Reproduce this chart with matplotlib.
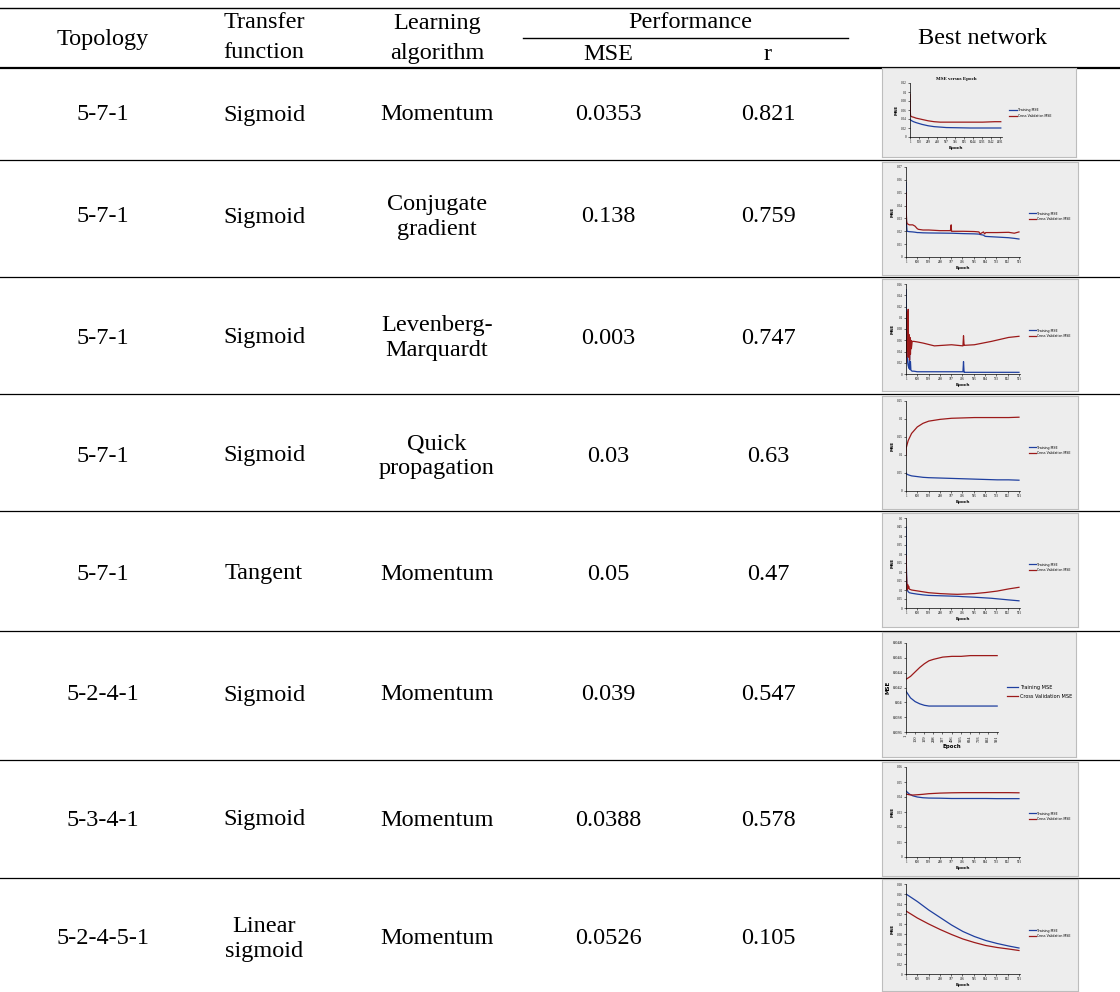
import matplotlib.pyplot as plt
import numpy as np

plt.rcParams['font.family'] = ['Liberation Serif', 'DejaVu Serif']

# table content
topology = ['5-7-1', '5-7-1', '5-7-1', '5-7-1', '5-7-1', '5-2-4-1', '5-3-4-1', '5-2-4-5-1']
transfer = ['Sigmoid', 'Sigmoid', 'Sigmoid', 'Sigmoid', 'Tangent', 'Sigmoid', 'Sigmoid', 'Linear\nsigmoid']
algorithm = ['Momentum', 'Conjugate\ngradient', 'Levenberg-\nMarquardt', 'Quick\npropagation',
             'Momentum', 'Momentum', 'Momentum', 'Momentum']
mse = ['0.0353', '0.138', '0.003', '0.03', '0.05', '0.039', '0.0388', '0.0526']
r_val = ['0.821', '0.759', '0.747', '0.63', '0.47', '0.547', '0.578', '0.105']

# thumbnail curves (epoch, value)
ep1 = [1, 5, 10, 30, 60, 100, 200, 300, 400, 500, 600, 800, 1000, 1200, 1400, 1500]
tr1 = [0.040, 0.039, 0.038, 0.036, 0.034, 0.032, 0.028, 0.025, 0.023, 0.022, 0.021, 0.0205, 0.020, 0.020, 0.020, 0.020]
cv1 = [0.095, 0.060, 0.047, 0.045, 0.044, 0.042, 0.039, 0.036, 0.034, 0.033, 0.033, 0.033, 0.033, 0.033, 0.034, 0.034]

ep2 = [1, 3, 6, 10, 30, 60, 80, 100, 110, 150, 200, 300, 390, 397, 400, 500, 600, 640, 650, 680, 690, 700, 800, 900, 950, 991]
tr2 = [0.058, 0.040, 0.025, 0.020, 0.0197, 0.0195, 0.0193, 0.019, 0.019, 0.0188, 0.0187, 0.0186, 0.0185, 0.0185, 0.0185, 0.0182, 0.018, 0.0178, 0.0175, 0.017, 0.0163, 0.016, 0.0155, 0.015, 0.0145, 0.014]
cv2 = [0.050, 0.035, 0.028, 0.026, 0.025, 0.025, 0.024, 0.022, 0.0215, 0.021, 0.021, 0.0205, 0.0205, 0.025, 0.020, 0.020, 0.0198, 0.0195, 0.018, 0.0195, 0.018, 0.019, 0.019, 0.0192, 0.0185, 0.0195]

ep3 = [1, 4, 8, 12, 16, 20, 24, 28, 32, 36, 40, 44, 48, 55, 70, 100, 150, 250, 400, 500, 505, 510, 515, 600, 750, 900, 991]
tr3 = [0.15, 0.10, 0.06, 0.03, 0.02, 0.015, 0.012, 0.010, 0.034, 0.008, 0.022, 0.007, 0.006, 0.005, 0.005, 0.004, 0.004, 0.004, 0.004, 0.004, 0.022, 0.003, 0.003, 0.003, 0.003, 0.003, 0.003]
cv3 = [0.020, 0.060, 0.030, 0.110, 0.040, 0.115, 0.030, 0.070, 0.025, 0.065, 0.035, 0.060, 0.045, 0.058, 0.058, 0.057, 0.055, 0.050, 0.052, 0.050, 0.068, 0.051, 0.051, 0.052, 0.058, 0.065, 0.067]

ep4 = [1, 3, 20, 50, 100, 150, 200, 300, 400, 500, 600, 700, 800, 900, 991]
tr4 = [0.050, 0.048, 0.045, 0.042, 0.040, 0.038, 0.037, 0.036, 0.035, 0.034, 0.033, 0.032, 0.031, 0.031, 0.030]
cv4 = [0.100, 0.120, 0.140, 0.160, 0.178, 0.188, 0.194, 0.199, 0.202, 0.203, 0.204, 0.204, 0.204, 0.204, 0.205]

ep5 = [1, 4, 8, 12, 16, 20, 25, 30, 50, 100, 150, 200, 300, 400, 450, 500, 600, 700, 750, 800, 850, 900, 991]
tr5 = [0.45, 0.25, 0.14, 0.11, 0.095, 0.09, 0.088, 0.085, 0.082, 0.077, 0.073, 0.070, 0.068, 0.066, 0.065, 0.063, 0.060, 0.056, 0.054, 0.051, 0.048, 0.045, 0.040]
cv5 = [0.29, 0.20, 0.14, 0.10, 0.13, 0.11, 0.12, 0.105, 0.100, 0.095, 0.090, 0.085, 0.080, 0.077, 0.076, 0.077, 0.080, 0.086, 0.090, 0.094, 0.100, 0.106, 0.115]

ep6 = [1, 50, 100, 150, 200, 250, 300, 400, 500, 600, 700, 800, 900, 991]
tr6 = [0.0415, 0.0406, 0.0401, 0.0398, 0.0396, 0.0395, 0.0395, 0.0395, 0.0395, 0.0395, 0.0395, 0.0395, 0.0395, 0.0395]
cv6 = [0.0431, 0.0435, 0.0441, 0.0447, 0.0452, 0.0456, 0.0458, 0.0461, 0.0462, 0.0462, 0.0463, 0.0463, 0.0463, 0.0463]

ep7 = [1, 30, 60, 100, 150, 200, 300, 400, 500, 600, 700, 800, 900, 991]
tr7 = [0.044, 0.042, 0.0408, 0.0400, 0.0395, 0.0393, 0.0392, 0.0390, 0.0390, 0.0390, 0.0390, 0.0389, 0.0389, 0.0389]
cv7 = [0.042, 0.0415, 0.0413, 0.0415, 0.0418, 0.0422, 0.0426, 0.0428, 0.0429, 0.0429, 0.0429, 0.0429, 0.0429, 0.0428]

ep8 = [1, 100, 200, 300, 400, 500, 600, 700, 800, 900, 991]
tr8 = [0.160, 0.145, 0.128, 0.113, 0.098, 0.085, 0.075, 0.067, 0.061, 0.056, 0.052]
cv8 = [0.126, 0.112, 0.100, 0.089, 0.079, 0.070, 0.063, 0.057, 0.053, 0.050, 0.047]

thumbs = [
    dict(ep=ep1, tr=tr1, cv=cv1, ylim=(0, 0.12), yt=np.arange(0, 0.121, 0.02),
         xt=[1, 150, 299, 448, 597, 746, 895, 1044, 1193, 1342, 1491], xmax=1520,
         title='MSE versus Epoch', box=(882, 68, 1076, 157), area=(910, 83, 1002, 137)),
    dict(ep=ep2, tr=tr2, cv=cv2, ylim=(0, 0.07), yt=np.arange(0, 0.071, 0.01)),
    dict(ep=ep3, tr=tr3, cv=cv3, ylim=(0, 0.16), yt=np.arange(0, 0.161, 0.02)),
    dict(ep=ep4, tr=tr4, cv=cv4, ylim=(0, 0.25), yt=np.arange(0, 0.251, 0.05)),
    dict(ep=ep5, tr=tr5, cv=cv5, ylim=(0, 0.5), yt=np.arange(0, 0.501, 0.05)),
    dict(ep=ep6, tr=tr6, cv=cv6, ylim=(0.036, 0.048), yt=np.arange(0.036, 0.0481, 0.002),
         rot=True, big=True),
    dict(ep=ep7, tr=tr7, cv=cv7, ylim=(0, 0.06), yt=np.arange(0, 0.061, 0.01)),
    dict(ep=ep8, tr=tr8, cv=cv8, ylim=(0, 0.18), yt=np.arange(0, 0.181, 0.02)),
]
thumb_boxes = [None, (882, 162, 1078, 275), (882, 279, 1078, 391), (882, 396, 1078, 509),
               (882, 513, 1078, 627), (882, 632, 1076, 757), (882, 762, 1078, 876),
               (882, 879, 1078, 991)]

W, H = 1120, 992
fig = plt.figure(figsize=(W / 100, H / 100), dpi=100)
ax = fig.add_axes([0, 0, 1, 1])
ax.set_xlim(0, W)
ax.set_ylim(H, 0)
ax.axis('off')

fs = 17.5
# rules
ax.plot([0, W], [8, 8], color='black', lw=1.0)
ax.plot([523, 848], [38, 38], color='black', lw=1.0)
ax.plot([0, W], [68, 68], color='black', lw=1.6)
row_lines = [160, 277, 394, 511, 631, 760, 878]
for y in row_lines:
    ax.plot([0, W], [y, y], color='black', lw=0.9)

# header
ax.text(103, 39, 'Topology', ha='center', va='center', fontsize=fs)
ax.text(264, 23, 'Transfer', ha='center', va='center', fontsize=fs)
ax.text(264, 53, 'function', ha='center', va='center', fontsize=fs)
ax.text(437, 23, 'Learning', ha='center', va='center', fontsize=fs)
ax.text(437, 53, 'algorithm', ha='center', va='center', fontsize=fs)
ax.text(690, 23, 'Performance', ha='center', va='center', fontsize=fs)
ax.text(608, 54, 'MSE', ha='center', va='center', fontsize=fs)
ax.text(768, 54, 'r', ha='center', va='center', fontsize=fs)
ax.text(983, 39, 'Best network', ha='center', va='center', fontsize=fs)

row_y = [115, 217, 338, 456, 574, 695, 820, 939]
cols = [(103, topology), (264, transfer), (437, algorithm), (608, mse), (768, r_val)]
for i, y in enumerate(row_y):
    for x, vals in cols:
        ax.text(x, y, vals[i], ha='center', va='center', fontsize=fs, linespacing=1.2)


def fr(x0, y0, x1, y1):
    return [x0 / W, 1 - y1 / H, (x1 - x0) / W, (y1 - y0) / H]


for i, t in enumerate(thumbs):
    box = t.get('box', thumb_boxes[i])
    x0, y0, x1, y1 = box
    bg = fig.add_axes(fr(*box))
    bg.set_facecolor('#ededed')
    bg.set_xticks([])
    bg.set_yticks([])
    for s in bg.spines.values():
        s.set_color('#bdbdbd')
        s.set_linewidth(0.8)
    if 'area' in t:
        area = t['area']
    elif t.get('big'):
        area = (x0 + 24, y0 + 11, x0 + 116, y0 + 100)
    else:
        area = (x0 + 24, y0 + 5, x0 + 138, y0 + 95)
    a = fig.add_axes(fr(*area))
    a.set_facecolor('none')
    a.plot(t['ep'], t['tr'], color='#1f3f9f', lw=0.9, label='Training MSE')
    a.plot(t['ep'], t['cv'], color='#9c1a1a', lw=0.9, label='Cross Validation MSE')
    a.set_ylim(*t['ylim'])
    a.set_xlim(1, t.get('xmax', 1000))
    a.set_yticks(t['yt'])
    xt = t.get('xt', [1, 100, 199, 298, 397, 496, 595, 694, 793, 892, 991])
    a.set_xticks(xt)
    big = t.get('big', False)
    lab = 3.2 if big else 2.3
    ytl = []
    for v in t['yt']:
        s = ('%.3f' % v).rstrip('0').rstrip('.') if v != 0 else '0'
        ytl.append(s)
    a.set_yticklabels(ytl)
    a.tick_params(labelsize=lab, length=1.2, width=0.4, pad=1)
    if t.get('rot'):
        a.tick_params(axis='x', labelrotation=90)
    for s in ['top', 'right']:
        a.spines[s].set_visible(False)
    for s in ['left', 'bottom']:
        a.spines[s].set_linewidth(0.5)
    a.set_xlabel('Epoch', fontsize=lab + 0.8, fontweight='bold', labelpad=1.5,
                  family=['DejaVu Sans'])
    a.set_ylabel('MSE', fontsize=lab + 0.8, fontweight='bold', labelpad=1.5,
                  family=['DejaVu Sans'])
    if 'title' in t:
        a.set_title(t['title'], fontsize=3.6, fontweight='bold', pad=2)
    size = 3.6 if big else 2.3
    a.legend(loc='center left', bbox_to_anchor=(1.05, 0.45), frameon=False,
             handlelength=2.2, handletextpad=0.4,
             labelspacing=0.9 if big else 0.6, prop={'family': 'DejaVu Sans', 'size': size})

fig.savefig('out.png', dpi=100)
